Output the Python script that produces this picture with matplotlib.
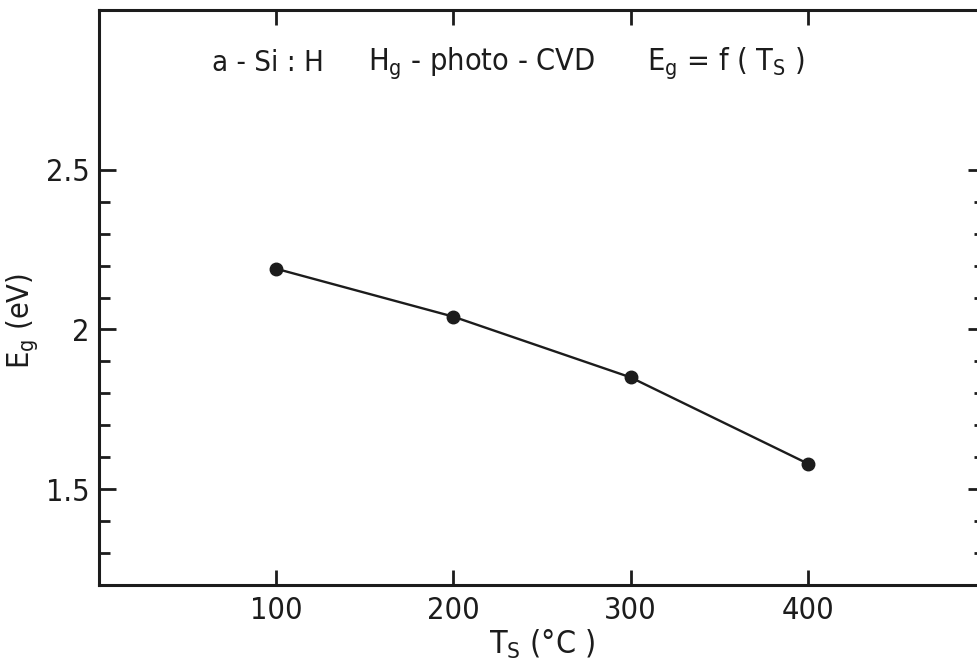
import numpy as np
import matplotlib
matplotlib.use("Agg")
import matplotlib.pyplot as plt
from matplotlib.ticker import FixedLocator

plt.rcParams['font.family'] = ['DejaVu Sans']
plt.rcParams['font.stretch'] = 'condensed'
plt.rcParams['mathtext.fontset'] = 'custom'
plt.rcParams['mathtext.rm'] = 'DejaVu Sans:stretch=condensed'

# substrate temperature (deg C) and optical gap (eV)
ts = [100, 200, 300, 400]
eg = [2.19, 2.04, 1.85, 1.58]

y_major = [1.5, 2.0, 2.5]
y_labels = ['1.5', '2', '2.5']
y_minor = [1.3, 1.4, 1.6, 1.7, 1.8, 1.9, 2.1, 2.2, 2.3, 2.4]
x_major = [100, 200, 300, 400]

ink = '#1c1c1c'

fig = plt.figure(figsize=(9.78, 6.66), dpi=100)
ax = fig.add_axes([0.1012, 0.1216, 0.906, 0.8634])

ax.plot(ts, eg, color=ink, lw=1.7, marker='o', ms=9, mfc=ink, mec=ink)

ax.set_xlim(0, 500)
ax.set_ylim(1.2, 3.0)

ax.set_xticks(x_major)
ax.set_xticklabels([str(v) for v in x_major])
ax.set_yticks(y_major)
ax.set_yticklabels(y_labels)
ax.yaxis.set_minor_locator(FixedLocator(y_minor))

ax.tick_params(axis='both', which='both', direction='in', colors=ink,
               top=True, right=True, labelsize=22)
ax.tick_params(axis='y', which='major', length=12, width=2, pad=7)
ax.tick_params(axis='y', which='minor', length=8, width=2)
ax.tick_params(axis='x', which='major', length=11, width=2, pad=8)

for s in ax.spines.values():
    s.set_linewidth(2.2)
    s.set_color(ink)

ax.set_xlabel(r'T$_\mathregular{S}$ (°C )', fontsize=23, color=ink, labelpad=2)
ax.set_ylabel(r'E$_\mathregular{g}$ (eV)', fontsize=22, color=ink)
ax.yaxis.set_label_coords(-0.066, 0.46)

# heading inside the frame
ax.text(64, 2.835, 'a - Si : H', fontsize=21, color=ink, va='center', ha='left')
ax.text(152, 2.835, r'H$_\mathregular{g}$ - photo - CVD', fontsize=22, color=ink,
        va='center', ha='left')
ax.text(309, 2.835, r'E$_\mathregular{g}$ = f ( T$_\mathregular{S}$ )', fontsize=22,
        color=ink, va='center', ha='left')

fig.savefig('out.png', dpi=100)
